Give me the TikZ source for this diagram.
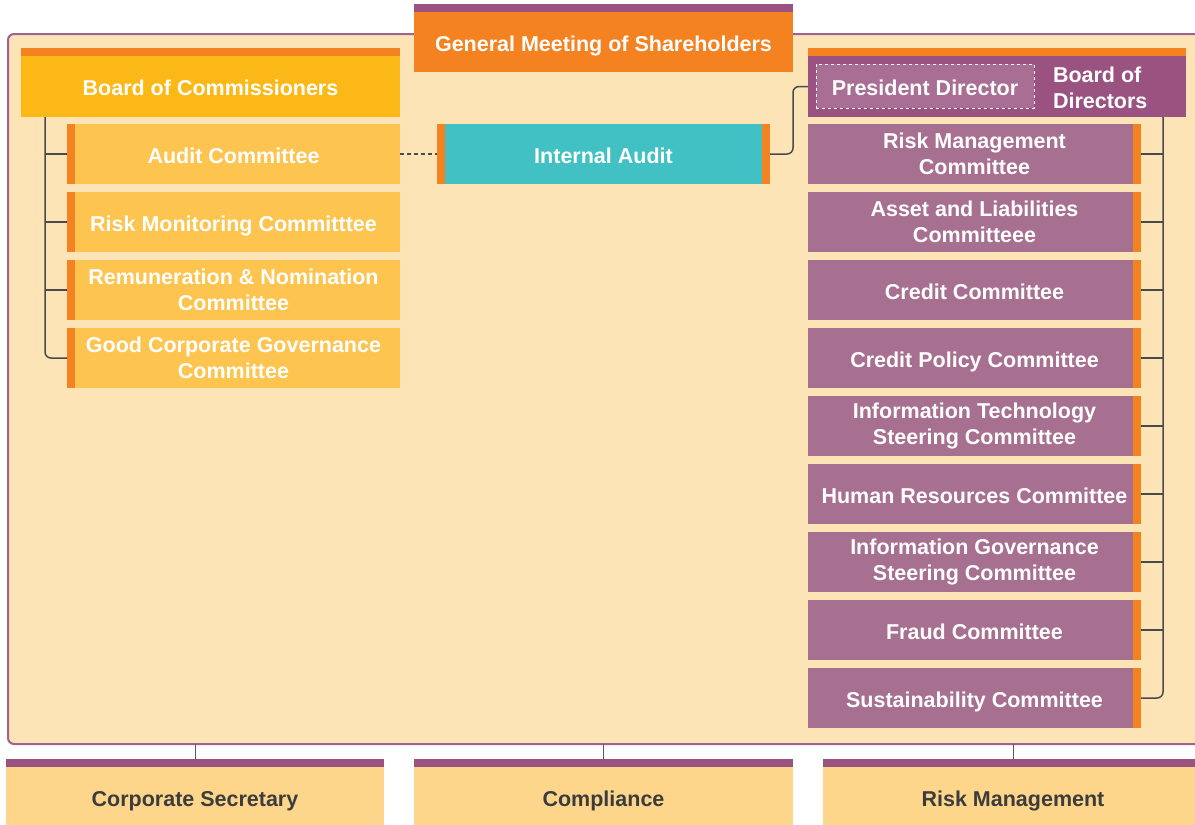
\documentclass[tikz,border=0pt]{standalone}
\usepackage{fontspec}
\setmainfont{Liberation Sans}
\definecolor{cOr}{HTML}{F58220}
\definecolor{cPu}{HTML}{9A5280}
\definecolor{cPd}{HTML}{A86E93}
\definecolor{cRc}{HTML}{A87090}
\definecolor{cBoc}{HTML}{FBB817}
\definecolor{cLc}{HTML}{FDC44F}
\definecolor{cTeal}{HTML}{41C1C3}
\definecolor{cBg}{HTML}{FDE4B7}
\definecolor{cBot}{HTML}{FED68B}
\definecolor{cFrame}{HTML}{A0628F}
\definecolor{cLine}{HTML}{4A4A4A}
\definecolor{cDark}{HTML}{3C3C3C}
\tikzset{
  box/.style={inner sep=0pt, outer sep=0pt, anchor=north west, align=center,
    font=\fontsize{21.5}{26}\selectfont\bfseries, text=white},
  one/.style={text height=18.6pt, text depth=0pt},
  lstrip/.style={path picture={\fill[cOr] (path picture bounding box.north west) rectangle ([xshift=8pt]path picture bounding box.south west);}},
  rstrip/.style={path picture={\fill[cOr] (path picture bounding box.north east) rectangle ([xshift=-8pt]path picture bounding box.south east);}},
  bstrip/.style={path picture={\fill[cOr] (path picture bounding box.north west) rectangle ([xshift=8pt]path picture bounding box.south west);
     \fill[cOr] (path picture bounding box.north east) rectangle ([xshift=-8pt]path picture bounding box.south east);}},
  lcom/.style={box, fill=cLc, lstrip, minimum width=333pt, minimum height=60pt},
  rcom/.style={box, fill=cRc, rstrip, minimum width=333pt, minimum height=60pt},
  botbox/.style={box, fill=cBot, text=cDark, minimum width=378pt, minimum height=58pt, text height=20pt, text depth=0pt},
  tree/.style={draw=cLine, line width=1.5pt, rounded corners=6pt},
  thin/.style={draw=cLine!90, line width=1pt},
}
\begin{document}
\begin{tikzpicture}[x=1pt,y=-1pt]
\useasboundingbox (0,0) rectangle (1195,825);
% frame
\node[inner sep=0pt, outer sep=0pt, anchor=north west, draw=cFrame, line width=2pt, fill=cBg, rounded corners=6pt, minimum width=1200pt, minimum height=710pt] (frame) at (8,34) {};
% General Meeting
\node[box, one, fill=cOr, minimum width=379pt, minimum height=60pt] (gms) at (414,12) {General Meeting of Shareholders};
\fill[cPu] ([yshift=8pt]gms.north west) rectangle (gms.north east);
% Board of Commissioners
\node[box, one, fill=cBoc, minimum width=379pt, minimum height=61pt] (boc) at (21,56) {Board of Commissioners};
\fill[cOr] ([yshift=8pt]boc.north west) rectangle (boc.north east);
% Left committees
\node[lcom, one] (ac) at (67,124) {Audit Committee};
\node[lcom, one] (rmc) at (67,192) {Risk Monitoring Committtee};
\node[lcom] (rnc) at (67,260) {Remuneration \& Nomination\\Committee};
\node[lcom] (gcg) at (67,328) {Good Corporate Governance\\Committee};
% Internal Audit
\node[box, one, fill=cTeal, bstrip, minimum width=333pt, minimum height=60pt] (ia) at (437,124) {Internal Audit};
% Board of Directors
\node[box, fill=cPu, minimum width=378pt, minimum height=61pt] (bod) at (808,56) {};
\fill[cOr] ([yshift=8pt]bod.north west) rectangle (bod.north east);
\node[box, one, fill=cPd, draw=white, dashed, line width=1pt, minimum width=218pt, minimum height=44pt] (pd) at (816,64) {President Director};
\node[box, anchor=west, align=left] (bodt) at (1053,88) {Board of\\Directors};
% Right committees
\node[rcom] (r1) at (808,124) {Risk Management\\Committee};
\node[rcom] (r2) at (808,192) {Asset and Liabilities\\Committeee};
\node[rcom, one] (r3) at (808,260) {Credit Committee};
\node[rcom, one] (r4) at (808,328) {Credit Policy Committee};
\node[rcom] (r5) at (808,396) {Information Technology\\Steering Committee};
\node[rcom, one] (r6) at (808,464) {Human Resources Committee};
\node[rcom] (r7) at (808,532) {Information Governance\\Steering Committee};
\node[rcom, one] (r8) at (808,600) {Fraud Committee};
\node[rcom, one] (r9) at (808,668) {Sustainability Committee};
% Bottom boxes
\node[botbox] (cs) at (6,767) {Corporate Secretary};
\node[botbox, minimum width=379pt] (co) at (414,767) {Compliance};
\node[botbox, minimum width=380pt] (rk) at (823,767) {Risk Management};
\foreach \b in {cs,co,rk}{\fill[cPu] ([yshift=8pt]\b.north west) rectangle (\b.north east);}
% Left tree
\coordinate (lt) at ([xshift=24pt]boc.south west);
\draw[tree] (lt) |- (gcg.west);
\foreach \n in {ac,rmc,rnc}{\draw[tree] (lt |- \n.west) -- (\n.west);}
% Right tree
\coordinate (rt) at ([xshift=-23pt]bod.south east);
\draw[tree] (rt) |- (r9.east);
\foreach \n in {r1,r2,r3,r4,r5,r6,r7,r8}{\draw[tree] (rt |- \n.east) -- (\n.east);}
% Audit links
\draw[cLine, line width=1.2pt, dash pattern=on 4pt off 3pt] (ac.east) -- (ia.west);
\draw[tree] (ia.east) -- ([xshift=23pt]ia.east) |- (bod.west);
% Bottom links
\foreach \b in {cs,co,rk}{\draw[thin] (\b.north |- frame.south) -- ([yshift=8pt]\b.north);}
\end{tikzpicture}
\end{document}
